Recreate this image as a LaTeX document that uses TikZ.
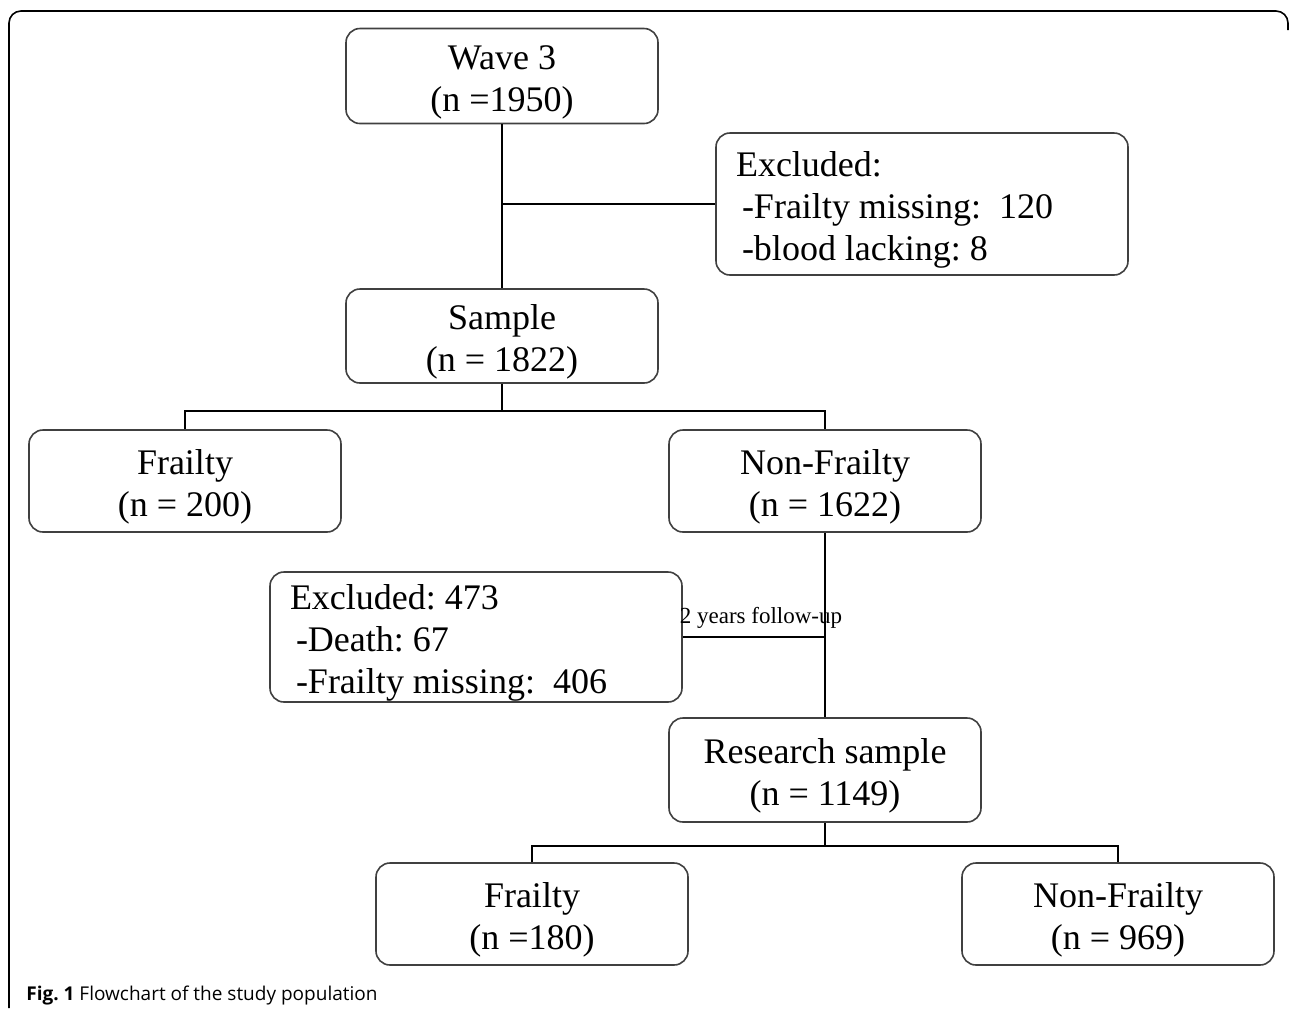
\documentclass[tikz,border=0pt]{standalone}
\usepackage{fontspec}
\setmainfont{Liberation Serif}
\setsansfont{Open Sans}
\usetikzlibrary{calc}

\begin{document}
\frenchspacing
\begin{tikzpicture}[x=0.5pt,y=-0.5pt,
 flowbox/.style={draw=black!75,line width=0.8pt,rounded corners=7pt,align=flush center,
  font=\fontsize{18}{21}\selectfont,text width=146pt,inner xsep=5pt,inner ysep=0pt,minimum height=50pt,
  execute at begin node={\rule{0pt}{18pt}}},
 exclbox/.style={flowbox,align=flush left,text width=186pt,inner xsep=10pt},
 link/.style={draw=black,line width=0.7pt}]
\useasboundingbox (0,0) rectangle (1290,1008);
\draw[line width=0.8pt,rounded corners=6pt] (9,1008)--(9,11)--(1288,11)--(1288,30);
\node[flowbox,minimum height=47.5pt] (wave) at (502,76) {Wave 3\\(n =1950)};
\node[exclbox,minimum height=71pt] (excl1) at (922,204) {Excluded:\\\hspace{3pt}-Frailty missing:\ \ 120\\\hspace{3pt}-blood lacking: 8};
\node[flowbox,minimum height=47pt] (sample) at (502,336) {Sample\\(n = 1822)};
\node[flowbox,minimum height=51pt] (frail1) at (185,481) {Frailty\\(n = 200)};
\node[flowbox,minimum height=51pt] (nonfrail1) at (825,481) {Non-Frailty\\(n = 1622)};
\node[exclbox,minimum height=65pt] (excl2) at (476,637) {Excluded: 473\\\hspace{3pt}-Death: 67\\\hspace{3pt}-Frailty missing:\ \ 406};
\node[flowbox,minimum height=52pt] (research) at (825,770) {Research sample\\(n = 1149)};
\node[flowbox,minimum height=51pt] (frail2) at (532,914) {Frailty\\(n =180)};
\node[flowbox,minimum height=51pt] (nonfrail2) at (1118,914) {Non-Frailty\\(n = 969)};
\draw[link] (wave)--(sample);
\draw[link] (excl1.west)--(excl1.west -| wave.south);
\draw[link] (sample.south)--++(0,27) coordinate (split1);
\draw[link] (frail1.north)|-(split1)-|(nonfrail1.north);
\draw[link] (nonfrail1.south)--(research.north);
\draw[link] (excl2.east)--(excl2.east -| nonfrail1.south)
 node[pos=0.55,above=3pt,inner sep=1pt,font=\fontsize{11.5}{13}\selectfont] (followup) {2 years follow-up};
\draw[link] (research.south)--++(0,23) coordinate (split2);
\draw[link] (frail2.north)|-(split2)-|(nonfrail2.north);
\node[anchor=base west,font=\sffamily\fontsize{9.5}{11}\selectfont,inner sep=0pt] (caption) at (26,1000) {\textbf{Fig. 1} Flowchart of the study population};
\end{tikzpicture}
\end{document}
